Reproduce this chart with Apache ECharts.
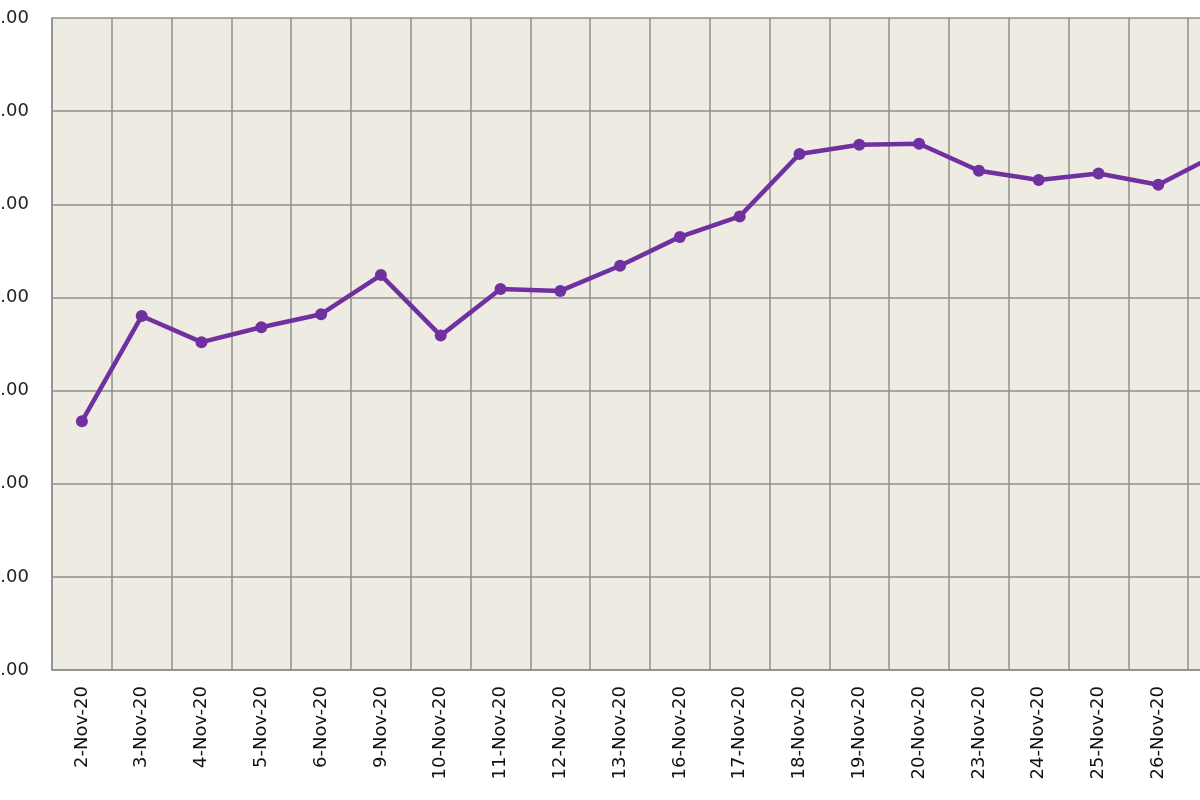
<!DOCTYPE html>
<html>
<head>
<meta charset="utf-8">
<script src="https://cdn.jsdelivr.net/npm/echarts@6/dist/echarts.min.js"></script>
<style>
  html, body { margin: 0; padding: 0; background: #fff; }
  #chart { width: 1200px; height: 800px; }
</style>
</head>
<body>
<div id="chart"></div>
<script>
// data
const fechas = ["2-Nov-20", "3-Nov-20", "4-Nov-20", "5-Nov-20", "6-Nov-20", "9-Nov-20", "10-Nov-20",
    "11-Nov-20", "12-Nov-20", "13-Nov-20", "16-Nov-20", "17-Nov-20", "18-Nov-20", "19-Nov-20",
    "20-Nov-20", "23-Nov-20", "24-Nov-20", "25-Nov-20", "26-Nov-20", "27-Nov-20"];
const valores = [2.67, 3.80, 3.52, 3.68, 3.82, 4.24, 3.59, 4.09, 4.07, 4.34, 4.65, 4.87,
    5.54, 5.64, 5.65, 5.36, 5.26, 5.33, 5.21, 5.54];
const yMin = 0;
const yMax = 7;
const yPaso = 1;

const chart = echarts.init(document.getElementById("chart"));
const gridColor = '#8f8f8a';

const option = {
    backgroundColor: '#ffffff',
    animation: false,
    grid: {
        left: 52,
        top: 18,
        width: 59.8 * fechas.length,
        height: 652,
        outerBoundsMode: 'none',
        containLabel: false,
        show: true,
        backgroundColor: '#edebe2',
        borderWidth: 0
    },
    xAxis: {
        type: 'category',
        data: fechas,
        boundaryGap: true,
        axisLine: { show: true, lineStyle: { color: gridColor, width: 1.5 } },
        axisTick: { show: false },
        splitLine: { show: true, interval: 0, lineStyle: { color: gridColor, width: 1.5 } },
        axisLabel: {
            interval: 0,
            rotate: 90,
            margin: 16,
            color: '#111',
            fontFamily: 'DejaVu Sans',
            fontSize: 18
        }
    },
    yAxis: {
        type: 'value',
        min: yMin,
        max: yMax,
        interval: yPaso,
        axisLine: { show: true, lineStyle: { color: gridColor, width: 1.5 } },
        axisTick: { show: false },
        splitLine: { show: true, lineStyle: { color: gridColor, width: 1.5 } },
        axisLabel: {
            margin: 23,
            color: '#222',
            fontFamily: 'DejaVu Sans',
            fontSize: 18,
            formatter: function (v) { return v.toFixed(2); }
        }
    },
    series: [{
        type: 'line',
        data: valores,
        symbol: 'circle',
        symbolSize: 12,
        lineStyle: { color: '#7030a0', width: 4.5 },
        itemStyle: { color: '#7030a0' }
    }]
};

chart.setOption(option);
chart.resize();
</script>
</body>
</html>
